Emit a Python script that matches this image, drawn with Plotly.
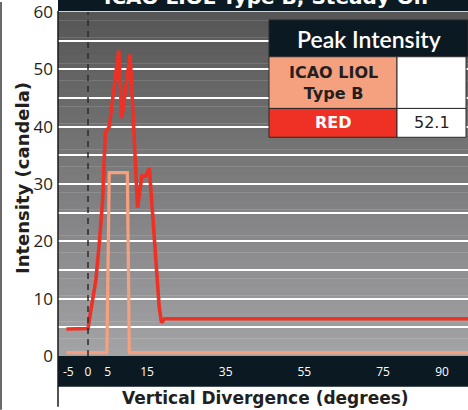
import plotly.graph_objects as go

# ---- data ----
red_x = [-5.5, 0, 0.6, 1.2, 1.6, 2.0, 2.9, 3.7, 4.4, 5.4, 7.8, 8.6, 10.7, 12.6, 13.7, 14.7, 15.6, 17.2, 18.1, 18.7, 19.5, 100]
red_y = [4.7, 4.8, 7.4, 9.7, 12.0, 13.2, 20.0, 27.0, 39.0, 40.0, 53.3, 41.5, 52.6, 25.9, 31.4, 31.4, 32.8, 18.4, 8.5, 5.8, 6.5, 6.5]
spec_x = [-5.5, 4.8, 5.4, 10.0, 10.5, 100]
spec_y = [0.6, 0.6, 32.0, 32.0, 0.6, 0.6]
x_ticks = [-5, 0, 5, 15, 35, 55, 75, 90]
y_ticks = [0, 10, 20, 30, 40, 50, 60]
chart_title = "ICAO LIOL Type B, Steady On"
table_header = "Peak Intensity"
table_rows = ["ICAO LIOL<br>Type B", "RED"]
table_values = ["", "52.1"]

RED = "#EE3124"
SALMON = "#F5A07E"
DARK = "#0b1a22"
TXT = "#231f20"
BOLD_FONT = "DejaVu Sans"

W, H = 468, 410
L, T, R, B = 58, 10, 0, 54
PW, PH = W - L - R, H - T - B


def px(x):
    return (x - L) / PW


def py(y):
    return (H - B - y) / PH


fig = go.Figure()
fig.add_trace(go.Scatter(x=spec_x, y=spec_y, mode="lines",
                         line=dict(color=SALMON, width=3.2), showlegend=False, hoverinfo="skip"))
fig.add_trace(go.Scatter(x=red_x, y=red_y, mode="lines",
                         line=dict(color=RED, width=3.6), showlegend=False, hoverinfo="skip"))

shapes = []
# gradient background
n = 40
top = (85, 85, 86)
bot = (164, 164, 166)
for i in range(n):
    t = (i + 0.5) / n
    c = tuple(int(round(top[k] + (bot[k] - top[k]) * t)) for k in range(3))
    shapes.append(dict(type="rect", xref="paper", yref="paper", x0=0, x1=1,
                       y0=1 - (i + 1) / n, y1=1 - i / n + 0.001, fillcolor="rgb(%d,%d,%d)" % c,
                       line=dict(width=0), layer="below"))
# title bar
shapes.append(dict(type="rect", xref="paper", yref="paper", x0=0, x1=1, y0=py(9), y1=py(-5),
                   fillcolor=DARK, line=dict(width=0), layer="below"))
# x-axis band
shapes.append(dict(type="rect", xref="paper", yref="paper", x0=0, x1=1, y0=py(387), y1=0,
                   fillcolor=DARK, line=dict(width=0), layer="below"))
# left axis line
shapes.append(dict(type="line", xref="paper", yref="paper", x0=px(58), x1=px(58), y0=py(407), y1=py(9),
                   line=dict(color="#1a1a1a", width=1.5), layer="above"))
# image left border
shapes.append(dict(type="line", xref="paper", yref="paper", x0=px(1), x1=px(1), y0=py(410), y1=py(0),
                   line=dict(color="#6a6a6a", width=2), layer="above"))
# dashed line at x=0
shapes.append(dict(type="line", xref="x", yref="paper", x0=0, x1=0, y0=0, y1=1,
                   line=dict(color="#2b2b2b", width=1.5, dash="6px,5px"), layer="above"))

# table
tx0, tx1, tmid = 269, 468, 397
ty = [18, 55, 107, 136]
border = dict(color="#2a2a2a", width=1)
shapes.append(dict(type="rect", xref="paper", yref="paper", x0=px(tx0), x1=px(tx1), y0=py(ty[1]), y1=py(ty[0]),
                   fillcolor=DARK, line=border, layer="above"))
shapes.append(dict(type="rect", xref="paper", yref="paper", x0=px(tx0), x1=px(tmid), y0=py(ty[2]), y1=py(ty[1]),
                   fillcolor=SALMON, line=border, layer="above"))
shapes.append(dict(type="rect", xref="paper", yref="paper", x0=px(tmid), x1=px(tx1 - 2), y0=py(ty[2]), y1=py(ty[1]),
                   fillcolor="white", line=border, layer="above"))
shapes.append(dict(type="rect", xref="paper", yref="paper", x0=px(tx0), x1=px(tmid), y0=py(ty[3]), y1=py(ty[2]),
                   fillcolor=RED, line=border, layer="above"))
shapes.append(dict(type="rect", xref="paper", yref="paper", x0=px(tmid), x1=px(tx1 - 2), y0=py(ty[3]), y1=py(ty[2]),
                   fillcolor="white", line=border, layer="above"))

annotations = []
annotations.append(dict(text="<b>" + chart_title + "</b>", xref="paper", yref="paper", x=px(266), y=py(-5),
                        xanchor="center", yanchor="middle", showarrow=False,
                        font=dict(family=BOLD_FONT, size=20, color="white")))
annotations.append(dict(text=table_header, xref="paper", yref="paper", x=px(369), y=py(37),
                        xanchor="center", yanchor="middle", showarrow=False,
                        font=dict(family="Lato", size=23, color="white", weight=600)))
annotations.append(dict(text="<b>" + table_rows[0] + "</b>", xref="paper", yref="paper", x=px(333), y=py(81),
                        xanchor="center", yanchor="middle", showarrow=False,
                        font=dict(family=BOLD_FONT, size=16, color=TXT)))
annotations.append(dict(text="<b>" + table_rows[1] + "</b>", xref="paper", yref="paper", x=px(333), y=py(121),
                        xanchor="center", yanchor="middle", showarrow=False,
                        font=dict(family=BOLD_FONT, size=16, color="white")))
annotations.append(dict(text=table_values[1], xref="paper", yref="paper", x=px(432), y=py(121),
                        xanchor="center", yanchor="middle", showarrow=False,
                        font=dict(family=BOLD_FONT, size=16, color=TXT)))
annotations.append(dict(text="<b>Vertical Divergence (degrees)</b>", xref="paper", yref="paper", x=px(265), y=py(398),
                        xanchor="center", yanchor="middle", showarrow=False,
                        font=dict(family=BOLD_FONT, size=17, color=TXT)))
annotations.append(dict(text="<b>Intensity (candela)</b>", xref="paper", yref="paper", x=px(22), y=py(177),
                        xanchor="center", yanchor="middle", showarrow=False, textangle=-90,
                        font=dict(family=BOLD_FONT, size=18, color=TXT)))

fig.update_layout(
    width=W, height=H,
    margin=dict(l=L, r=R, t=T, b=B, pad=0),
    paper_bgcolor="white", plot_bgcolor="rgba(0,0,0,0)",
    shapes=shapes, annotations=annotations,
    xaxis=dict(range=[-7.63, 96.6], tickvals=x_ticks, ticktext=[str(v) for v in x_ticks],
               showgrid=False, zeroline=False, showline=False, ticks="",
               tickfont=dict(family="Open Sans", size=12, color="white"), ticklabelstandoff=7),
    yaxis=dict(range=[0, 60], tickvals=y_ticks, showgrid=True, gridcolor="white", gridwidth=1.5,
               minor=dict(dtick=5, tick0=0, showgrid=True, gridcolor="white", gridwidth=1.5),
               zeroline=False, showline=False, ticks="", ticklabeloverflow="allow",
               tickfont=dict(family="Open Sans", size=17, color=TXT), ticklabelstandoff=4),
)

fig.write_html("out.html", config={"displayModeBar": False},
               post_script="document.body.style.margin='0px';document.body.style.overflow='hidden';")
